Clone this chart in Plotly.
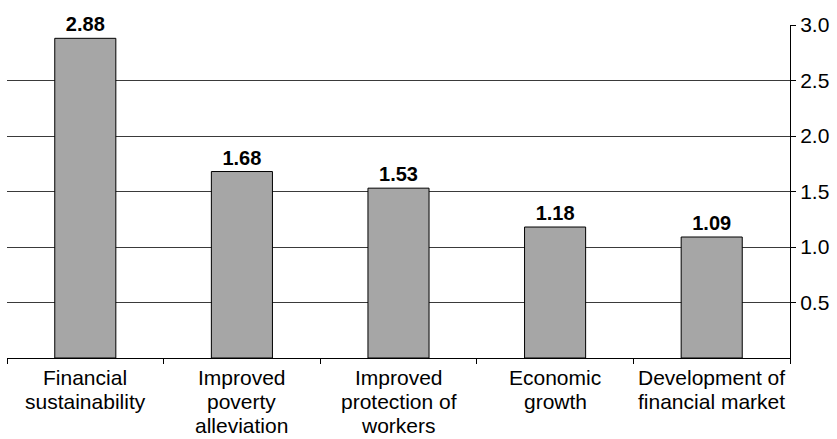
import plotly.graph_objects as go

categories = [
    "Financial<br>sustainability",
    "Improved<br>poverty<br>alleviation",
    "Improved<br>protection of<br>workers",
    "Economic<br>growth",
    "Development of<br>financial market",
]
values = [2.88, 1.68, 1.53, 1.18, 1.09]
y_ticks = [0.5, 1.0, 1.5, 2.0, 2.5, 3.0]

FONT = "Liberation Sans, Arial, Helvetica, sans-serif"
LABEL_SIZE = 21
LINE_STEP = 24  # tighter line spacing than plotly's default 1.3em

fig = go.Figure(
    go.Bar(
        x=categories,
        y=values,
        text=[f"{v:.2f}" for v in values],
        textposition="outside",
        texttemplate="<b>%{text}</b>",
        textfont=dict(family=FONT, size=20, color="black"),
        cliponaxis=False,
        marker=dict(color="#a6a6a6", line=dict(color="black", width=1)),
    )
)

# Category labels, one annotation per line so the line spacing stays compact
annotations = []
for cat in categories:
    for i, line in enumerate(cat.split("<br>")):
        annotations.append(
            dict(
                x=cat,
                xref="x",
                y=0,
                yref="paper",
                yanchor="top",
                xanchor="center",
                yshift=-(7 + i * LINE_STEP),
                text=line,
                showarrow=False,
                borderpad=0,
                font=dict(family=FONT, size=LABEL_SIZE, color="black"),
            )
        )

fig.update_layout(
    width=837,
    height=439,
    margin=dict(l=7, r=47, t=25, b=81),
    paper_bgcolor="white",
    plot_bgcolor="white",
    bargap=0.61,
    showlegend=False,
    font=dict(family=FONT, size=LABEL_SIZE, color="black"),
    annotations=annotations,
)

fig.update_xaxes(
    showline=True,
    linecolor="black",
    linewidth=1,
    ticks="outside",
    tickson="boundaries",
    ticklen=5,
    tickcolor="black",
    showticklabels=False,
    showgrid=False,
)

fig.update_yaxes(
    side="right",
    range=[0, 3.0],
    tickvals=y_ticks,
    ticktext=[f"{t:.1f}" for t in y_ticks],
    ticks="outside",
    ticklen=5,
    tickcolor="black",
    showline=True,
    linecolor="black",
    linewidth=1,
    showgrid=True,
    gridcolor="#3a3a3a",
    gridwidth=1,
    zeroline=False,
    tickfont=dict(size=LABEL_SIZE),
)

fig.write_html("out.html")
